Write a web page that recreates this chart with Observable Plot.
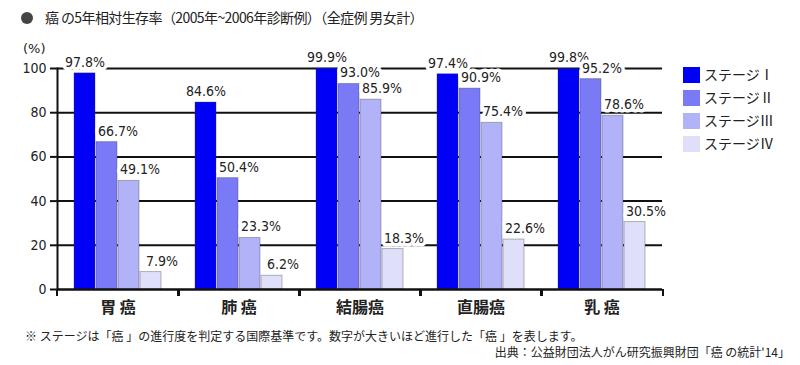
<!DOCTYPE html>
<html><head><meta charset="utf-8">
<script src="https://cdn.jsdelivr.net/npm/d3@7"></script>
<script src="https://cdn.jsdelivr.net/npm/@observablehq/plot@0.6"></script>
<style>
body{margin:0;background:#fff;width:800px;height:365px;position:relative;overflow:hidden;font-family:"Noto Sans CJK JP",sans-serif;color:#222;}
#chart{position:absolute;left:0;top:0;}
.t{position:absolute;white-space:nowrap;line-height:1;}
#title{left:45px;top:10px;font-size:14px;letter-spacing:-0.6px;}
#bullet{position:absolute;left:21px;top:12px;width:12px;height:12px;border-radius:50%;background:#444;}
#pct{left:23px;top:42px;font-family:"DejaVu Sans",sans-serif;font-size:13px;}
.lg{position:absolute;left:683px;width:17px;height:16px;}
.lt{position:absolute;left:704px;font-size:14px;line-height:1;white-space:nowrap;}
#note1{left:25px;top:330px;font-size:12px;}
#note2{right:10px;top:346px;font-size:12px;}
</style></head><body>
<div id="bullet"></div>
<div id="title" class="t">癌 の5年相対生存率（2005年~2006年診断例）（全症例 男女計）</div>
<div id="pct" class="t">(%)</div>
<div id="chart"></div>
<div id="legend"></div>
<div id="note1" class="t">※ ステージは「癌 」の進行度を判定する国際基準です。数字が大きいほど進行した「癌 」を表します。</div>
<div id="note2" class="t">出典：公益財団法人がん研究振興財団「癌 の統計'14」</div>
<script>
const categories = ["胃 癌", "肺 癌", "結腸癌", "直腸癌", "乳 癌"];
const stages = ["ステージⅠ", "ステージⅡ", "ステージⅢ", "ステージⅣ"];
const stageI = [97.8, 84.6, 99.9, 97.4, 99.8];
const stageII = [66.7, 50.4, 93.0, 90.9, 95.2];
const stageIII = [49.1, 23.3, 85.9, 75.4, 78.6];
const stageIV = [7.9, 6.2, 18.3, 22.6, 30.5];
const yTicks = [0, 20, 40, 60, 80, 100];
const colors = ["#0000f6", "#7a7af6", "#b2b2f9", "#dfdffa"];

const series = [stageI, stageII, stageIII, stageIV];
const rows = categories.flatMap((c, i) => stages.map((s, j) => ({cat: c, stage: s, value: series[j][i]})));

const labelFont = "'DejaVu Sans Condensed','DejaVu Sans',sans-serif";
const chart = Plot.plot({
  width: 800, height: 320,
  marginLeft: 55, marginRight: 136, marginTop: 68, marginBottom: 31,
  style: {fontFamily: labelFont, fontSize: "14px", color: "#222", background: "transparent"},
  fx: {domain: categories, padding: 0, label: null},
  x: {domain: stages, paddingInner: 0.05, paddingOuter: 0.7, axis: null},
  y: {domain: [0, 100], label: null},
  color: {domain: stages, range: colors},
  marks: [
    Plot.ruleY(yTicks.filter(d => d > 0), {stroke: "#111", strokeWidth: 2}),
    Plot.barY(rows, {fx: "cat", x: "stage", y: "value", fill: "stage", stroke: "#334", strokeOpacity: 0.35, strokeWidth: 1}),
    Plot.ruleY([0], {stroke: "#111", strokeWidth: 2.5}),
    Plot.frame({anchor: "left", facetAnchor: "left", stroke: "#111", strokeWidth: 2}),
    Plot.axisY({ticks: yTicks, tickSize: 7, tickPadding: 4, strokeWidth: 2, stroke: "#111", label: null, fontSize: 14}),
    Plot.axisFx({anchor: "bottom", tickSize: 0, tickPadding: 12, label: null, fontSize: 16, fontWeight: "bold", fontFamily: "'Noto Sans CJK JP',sans-serif"}),
    Plot.axisFx({anchor: "bottom", tickSize: 7, tickFormat: () => "", label: null, dx: 61, strokeWidth: 2, stroke: "#111"}),
    Plot.axisFx({anchor: "bottom", tickSize: 7, tickFormat: () => "", label: null, dx: -61, strokeWidth: 2, stroke: "#111"}),
    Plot.text(rows.filter(d => d.stage === stages[0]), {fx: "cat", x: "stage", y: "value", text: d => d.value.toFixed(1) + "%", dy: -11, fill: "#222", stroke: "white", strokeWidth: 7, fontSize: 14}),
    Plot.text(rows.filter(d => d.stage !== stages[0]), {fx: "cat", x: "stage", y: "value", text: d => d.value.toFixed(1) + "%", dy: -11, dx: 11, fill: "#222", stroke: "white", strokeWidth: 7, fontSize: 14})
  ]
});
document.getElementById("chart").appendChild(chart);

const legend = document.getElementById("legend");
stages.forEach((s, i) => {
  const sw = document.createElement("div");
  sw.className = "lg";
  sw.style.top = (67 + i * 23) + "px";
  sw.style.background = colors[i];
  legend.appendChild(sw);
  const tx = document.createElement("div");
  tx.className = "lt";
  tx.style.top = (67 + i * 23) + "px";
  tx.textContent = s;
  legend.appendChild(tx);
});
</script>
</body></html>
